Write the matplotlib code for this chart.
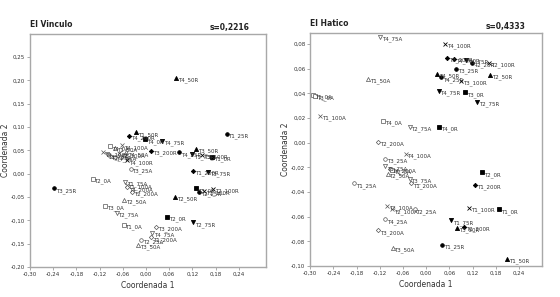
import matplotlib
matplotlib.use("Agg")
import matplotlib.pyplot as plt
from matplotlib.ticker import FuncFormatter
import numpy as np

# ---------------- Data: El Vinculo ----------------
vin_labels = ["T4_50R", "T1_25R", "T1_50R", "T4_200R", "T4_0R", "T4_75R", "T3_200R", "T4_25R",
              "T3_50R", "T1_75R", "T3_100R", "T1_0R", "T1_200R", "T3_75R", "T3_0R", "T2_25R",
              "T2_100R", "T1_100R", "T2_50R", "T2_0R", "T2_75R", "T3_25R", "T4_100R",
              "T2_0A", "T3_0A", "T2_75A", "T1_0A", "T2_50A", "T3_25A", "T1_75A", "T1_100A",
              "T4_200A", "T2_200A", "T3_200A", "T4_75A", "T1_200A", "T2_25A", "T3_50A",
              "T4_0A", "T1_50A", "T4_100A", "T3_75A", "T1_25A", "T4_25A", "T2_100A", "T4_50A", "T3_100A"]
vin_x = [0.078, 0.209, -0.025, -0.043, -0.002, 0.042, 0.014, 0.086,
         0.129, 0.119, 0.145, 0.171, 0.122, 0.160, 0.129, 0.137,
         0.173, 0.150, 0.075, 0.055, 0.122, -0.238, -0.048,
         -0.138, -0.105, -0.076, -0.058, -0.056, -0.040, -0.053, -0.050,
         -0.048, -0.035, 0.027, 0.016, 0.014, -0.012, -0.020,
         -0.092, -0.079, -0.061, -0.102, -0.094, -0.081, -0.069, -0.051, -0.110]
vin_y = [0.205, 0.085, 0.089, 0.081, 0.074, 0.070, 0.049, 0.046,
         0.053, 0.042, 0.040, 0.036, 0.006, 0.004, -0.031, -0.039,
         -0.033, -0.037, -0.050, -0.093, -0.104, -0.031, 0.029,
         -0.011, -0.069, -0.084, -0.110, -0.056, 0.010, -0.018, -0.024,
         -0.029, -0.039, -0.114, -0.127, -0.136, -0.142, -0.152,
         0.059, 0.055, 0.061, 0.042, 0.038, 0.036, 0.044, 0.046, 0.046]

# ---------------- Data: El Hatico ----------------
hat_labels = ["T4_100R", "T3_200R", "T4_200R", "T3_75R", "T2_25R", "T2_100R", "T2_50R", "T3_25R",
              "T4_50R", "T4_25R", "T3_100R", "T4_75R", "T3_0R", "T2_75R", "T4_0R", "T2_0R",
              "T1_200R", "T1_100R", "T1_0R", "T1_75R", "T3_50R", "T2_200R", "T1_25R", "T1_50R",
              "T4_75A", "T1_50A", "T1_0A", "T3_0A", "T1_100A", "T4_0A", "T2_75A", "T2_200A",
              "T3_25A", "T4_100A", "T1_75A", "T4_200A", "T2_0A", "T2_50A", "T3_75A", "T1_200A",
              "T1_25A", "T3_100A", "T2_100A", "T2_25A", "T4_25A", "T3_200A", "T3_50A"]
hat_x = [0.050, 0.055, 0.073, 0.104, 0.118, 0.163, 0.165, 0.078,
         0.029, 0.039, 0.091, 0.032, 0.101, 0.132, 0.034, 0.145,
         0.127, 0.111, 0.189, 0.065, 0.081, 0.099, 0.042, 0.209,
         -0.120, -0.151, -0.292, -0.288, -0.274, -0.112, -0.043, -0.125,
         -0.107, -0.053, -0.107, -0.094, -0.089, -0.100, -0.043, -0.038,
         -0.187, -0.102, -0.089, -0.030, -0.107, -0.125, -0.087]
hat_y = [0.080, 0.069, 0.068, 0.067, 0.065, 0.065, 0.055, 0.060,
         0.056, 0.053, 0.050, 0.042, 0.041, 0.033, 0.013, -0.024,
         -0.034, -0.053, -0.054, -0.063, -0.069, -0.068, -0.083, -0.094,
         0.086, 0.052, 0.039, 0.038, 0.022, 0.018, 0.013, 0.001,
         -0.013, -0.009, -0.019, -0.021, -0.022, -0.025, -0.029, -0.033,
         -0.033, -0.051, -0.054, -0.054, -0.062, -0.071, -0.085]

dose_marker = {"0": "s", "25": "o", "50": "^", "75": "v", "100": "x", "200": "D"}
dose_size = {"0": 3.2, "25": 2.6, "50": 3.0, "75": 3.0, "100": 3.0, "200": 2.2}

fig = plt.figure(figsize=(5.6, 2.97), dpi=100)
ax1 = fig.add_axes([0.0536, 0.101, 0.421, 0.785])
ax2 = fig.add_axes([0.554, 0.104, 0.414, 0.785])

fmt = FuncFormatter(lambda v, p: f"{v:.2f}".replace(".", ",").replace("-0,00", "0,00"))

def draw(ax, labels, xs, ys, xlim, ylim, yticks, title, stress):
    for lab, x, y in zip(labels, xs, ys):
        dose = lab.split("_")[1][:-1]
        kind = lab[-1]
        m = dose_marker[dose]
        s = dose_size[dose]
        if kind == "R":
            ax.plot(x, y, marker=m, ms=s, color="black", mfc="black", mec="black", mew=0.6, ls="none")
        else:
            ax.plot(x, y, marker=m, ms=s, color="#555555", mfc="white", mec="#555555", mew=0.5, ls="none")
        ax.annotate(lab, (x, y), xytext=(1.3, -1.8), textcoords="offset points",
                    fontsize=4, color="#333333", ha="left", va="center")
    ax.set_xlim(*xlim)
    ax.set_ylim(*ylim)
    ax.set_xticks(np.round(np.arange(-0.30, 0.25, 0.06), 2))
    ax.set_yticks(yticks)
    ax.xaxis.set_major_formatter(fmt)
    ax.yaxis.set_major_formatter(fmt)
    ax.tick_params(labelsize=4, length=2, width=0.5, color="#888888", labelcolor="#333333", pad=1.5)
    for sp in ax.spines.values():
        sp.set_color("#a8a8a8")
        sp.set_linewidth(1.0)
    ax.set_xlabel("Coordenada 1", fontsize=5.5, color="#333333", labelpad=3)
    ax.set_ylabel("Coordenada 2", fontsize=5.5, color="#333333", labelpad=1)
    ax.text(0.0, 1.02, title, transform=ax.transAxes, fontsize=5.5, fontweight="bold",
            ha="left", va="bottom", color="#222222")
    ax.text(0.93, 1.01, stress, transform=ax.transAxes, fontsize=5.5, fontweight="bold",
            ha="right", va="bottom", color="#222222")

draw(ax1, vin_labels, vin_x, vin_y, (-0.30, 0.31), (-0.20, 0.30),
     np.round(np.arange(-0.20, 0.26, 0.05), 2), "El Vinculo", "s=0,2216")
draw(ax2, hat_labels, hat_x, hat_y, (-0.30, 0.30), (-0.10, 0.089),
     np.round(np.arange(-0.10, 0.081, 0.02), 2), "El Hatico", "s=0,4333")

fig.savefig("out.png", dpi=100)
